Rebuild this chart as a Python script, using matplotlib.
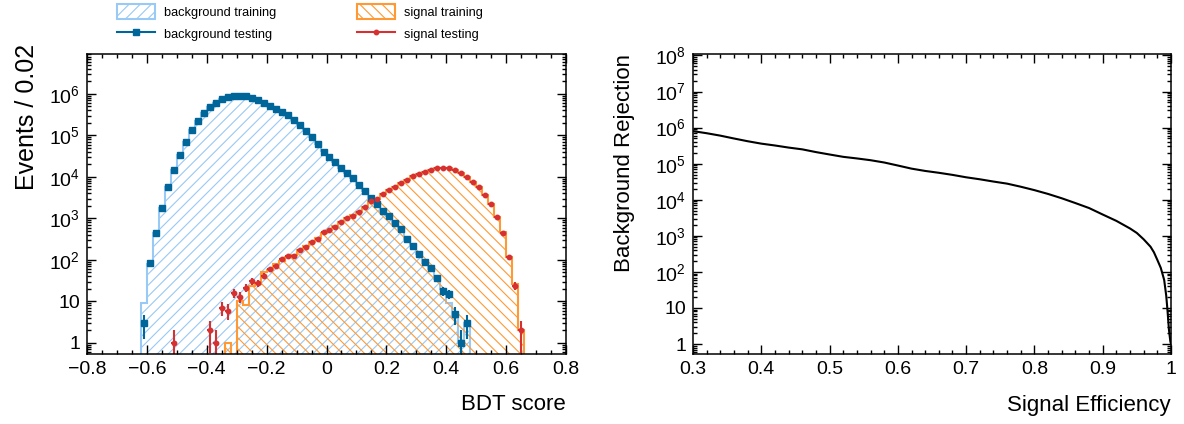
import numpy as np
import matplotlib
matplotlib.use("Agg")
import matplotlib.pyplot as plt
from matplotlib.patches import Patch
from matplotlib.lines import Line2D
from matplotlib.ticker import MultipleLocator, LogLocator, FuncFormatter, NullFormatter

plt.rcParams['font.family'] = ['Liberation Sans', 'DejaVu Sans']
plt.rcParams['mathtext.default'] = 'regular'
plt.rcParams['hatch.linewidth'] = 0.8

# -------------------------------
# BDT score distributions, 80 bins of 0.02 from -0.8 to 0.8
# -------------------------------
edges = np.linspace(-0.8, 0.8, 81)

bkg_test = [0, 0, 0, 0, 0, 0, 0, 0, 0, 3,
            83, 440, 1770, 5800, 14500, 34000, 69000, 134000, 220000, 340000,
            480000, 600000, 740000, 850000, 890000, 890000, 890000, 790000, 710000, 600000,
            515000, 435000, 360000, 307000, 236000, 178000, 126000, 92000, 61000, 41000,
            29500, 22500, 16200, 12300, 9300, 6400, 4500, 3100, 2200, 1510,
            1130, 770, 550, 320, 215, 138, 88, 63, 36, 18,
            15, 5, 1, 3, 0, 0, 0, 0, 0, 0,
            0, 0, 0, 0, 0, 0, 0, 0, 0, 0]

bkg_train = [0, 0, 0, 0, 0, 0, 0, 0, 0, 9,
             82, 445, 1760, 5850, 14400, 34200, 68800, 134500, 219000, 341000,
             479000, 602000, 738000, 848000, 892000, 888000, 891000, 792000, 708000, 601000,
             514000, 436000, 359000, 308000, 235000, 179000, 125000, 92500, 60800, 41200,
             29300, 22600, 16100, 12400, 9250, 6450, 4480, 3120, 2190, 1520,
             1120, 780, 545, 325, 212, 140, 86, 62, 34, 20,
             9, 4, 1, 3, 0, 0, 0, 0, 0, 0,
             0, 0, 0, 0, 0, 0, 0, 0, 0, 0]

sig_test = [0, 0, 0, 0, 0, 0, 0, 0, 0, 0,
            0, 0, 0, 0, 1, 0, 0, 0, 0, 0,
            2, 1, 7, 6, 16, 13, 21, 31, 28, 42,
            60, 71, 105, 123, 125, 176, 209, 276, 320, 465,
            530, 635, 835, 1000, 1170, 1450, 1920, 2640, 3000, 3830,
            4790, 5870, 7200, 8500, 10500, 12000, 13400, 15000, 16200, 16500,
            16300, 14600, 12300, 10000, 7700, 5600, 3700, 2200, 1070, 455,
            116, 24, 2, 0, 0, 0, 0, 0, 0, 0]

sig_train = [0, 0, 0, 0, 0, 0, 0, 0, 0, 0,
             0, 0, 0, 0, 0, 0, 0, 0, 0, 0,
             0, 0, 0, 1, 0, 10, 8, 23, 26, 52,
             56, 80, 95, 120, 130, 170, 212, 270, 330, 455,
             540, 640, 820, 1010, 1180, 1440, 1930, 2620, 3020, 3810,
             4800, 5850, 7220, 8480, 10450, 12050, 13350, 15050, 16150, 16550,
             16250, 14650, 12250, 10050, 7650, 5650, 3680, 2220, 1060, 460,
             118, 27, 2, 0, 0, 0, 0, 0, 0, 0]

# -------------------------------
# ROC curve: background rejection vs signal efficiency
# -------------------------------
sig_eff = [0.30, 0.32, 0.34, 0.36, 0.38, 0.40, 0.42, 0.44, 0.46, 0.48,
           0.50, 0.52, 0.54, 0.56, 0.58, 0.60, 0.62, 0.64, 0.66, 0.68,
           0.70, 0.72, 0.74, 0.76, 0.78, 0.80, 0.82, 0.84, 0.86, 0.88,
           0.90, 0.92, 0.94, 0.95, 0.96, 0.97, 0.975, 0.98, 0.985, 0.99,
           0.993, 0.995, 0.997, 0.999, 1.0]
bkg_rej = [8.0e5, 7.0e5, 6.0e5, 5.0e5, 4.2e5, 3.6e5, 3.2e5, 2.8e5, 2.5e5, 2.1e5,
           1.8e5, 1.55e5, 1.4e5, 1.25e5, 1.08e5, 8.9e4, 7.3e4, 6.3e4, 5.6e4, 4.9e4,
           4.2e4, 3.7e4, 3.2e4, 2.8e4, 2.3e4, 1.85e4, 1.45e4, 1.1e4, 8.1e3, 5.9e3,
           3.9e3, 2.6e3, 1.6e3, 1.2e3, 800, 500, 350, 215, 130, 60,
           22, 8, 2.5, 1.2, 1.0]

# colours
bkg_fill = "#99c9f5"
bkg_mark = "#006599"
sig_fill = "#ff9933"
sig_mark = "#d63030"


def log_label(v, pos):
    if v == 1:
        return "1"
    if v == 10:
        return "10"
    return r"$10^{%d}$" % int(round(np.log10(v)))


def lin_label(v, pos):
    return f"{v:g}".replace("-", "\u2212")


def style_axes(ax, xmajor, xminor):
    ax.xaxis.set_major_locator(MultipleLocator(xmajor))
    ax.xaxis.set_minor_locator(MultipleLocator(xminor))
    ax.xaxis.set_major_formatter(FuncFormatter(lin_label))
    ax.yaxis.set_major_locator(LogLocator(base=10, numticks=20))
    ax.yaxis.set_minor_locator(LogLocator(base=10, subs=np.arange(2, 10), numticks=20))
    ax.yaxis.set_major_formatter(FuncFormatter(log_label))
    ax.yaxis.set_minor_formatter(NullFormatter())
    ax.tick_params(which='both', direction='in', top=True, right=True,
                   labelsize=14, width=1.0)
    ax.tick_params(which='major', length=6.5, pad=5)
    ax.tick_params(which='minor', length=3.2)
    for s in ax.spines.values():
        s.set_linewidth(1.1)


fig = plt.figure(figsize=(11.84, 4.24), dpi=100)
ax1 = fig.add_axes([87 / 1184, 70 / 424, 479 / 1184, 300 / 424])
ax2 = fig.add_axes([693 / 1184, 70 / 424, 478 / 1184, 300 / 424])

# -------------------------------
# Left: BDT score histograms
# -------------------------------
ax1.set_yscale('log')
floor = 0.1
centers = 0.5 * (edges[:-1] + edges[1:])
half = 0.5 * (edges[1] - edges[0])

for vals, col, hatch in [(bkg_train, bkg_fill, '///'), (sig_train, sig_fill, '\\\\\\')]:
    v = np.asarray(vals, dtype=float)
    ax1.stairs(np.where(v > 0, v, floor), edges, baseline=floor, fill=True,
               facecolor='none', edgecolor=col, hatch=hatch, linewidth=1.5)

for vals, col, mk, ms in [(bkg_test, bkg_mark, 's', 4.8), (sig_test, sig_mark, 'o', 3.2)]:
    v = np.asarray(vals, dtype=float)
    m = v > 0
    ax1.errorbar(centers[m], v[m], yerr=np.sqrt(v[m]), xerr=half, fmt=mk,
                 color=col, markersize=ms, elinewidth=1.5, capsize=0)

ax1.set_xlim(-0.8, 0.8)
ax1.set_ylim(0.54, 9.2e6)
style_axes(ax1, 0.2, 0.05)
ax1.set_xlabel("BDT score", fontsize=16, loc='right')
ax1.set_ylabel("Events / 0.02", fontsize=18, loc='top')
ax1.xaxis.set_label_coords(1.0, -0.135)
ax1.yaxis.set_label_coords(-0.1, 1.035)

# legend above the left panel
handles = [
    Patch(facecolor='none', edgecolor=bkg_fill, hatch='///', linewidth=1.5),
    Line2D([], [], color=bkg_mark, marker='s', markersize=4.8, linewidth=1.5),
    Patch(facecolor='none', edgecolor=sig_fill, hatch='\\\\\\', linewidth=1.5),
    Line2D([], [], color=sig_mark, marker='o', markersize=3.2, linewidth=1.5),
]
labels = ["background training", "background testing", "signal training", "signal testing"]
fig.legend(handles, labels, loc='upper left', bbox_to_anchor=(117 / 1184, 1 - 4 / 424),
           ncol=2, frameon=False, fontsize=9.2, handlelength=2.95, handleheight=1.4,
           handletextpad=0.75, columnspacing=6.3, labelspacing=0.6, borderpad=0,
           borderaxespad=0)

# -------------------------------
# Right: ROC curve
# -------------------------------
ax2.set_yscale('log')
ax2.plot(sig_eff, bkg_rej, color='black', linewidth=1.5)
ax2.set_xlim(0.3, 1.0)
ax2.set_ylim(0.53, 1.1e8)
style_axes(ax2, 0.1, 0.02)
ax2.set_xlabel("Signal Efficiency", fontsize=16, loc='right')
ax2.set_ylabel("Background Rejection", fontsize=16, loc='top')
ax2.xaxis.set_label_coords(1.0, -0.135)
ax2.yaxis.set_label_coords(-0.122, 1.0)

fig.savefig("out.png", dpi=100)
